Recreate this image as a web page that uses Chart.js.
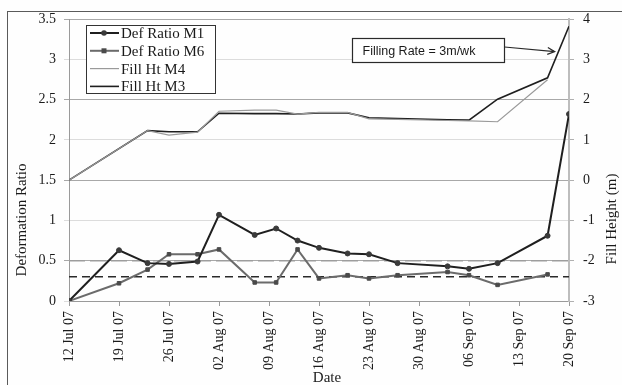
<!DOCTYPE html>
<html>
<head>
<meta charset="utf-8">
<title>Deformation Ratio and Fill Height</title>
<script src="https://cdn.jsdelivr.net/npm/chart.js@4.4.1/dist/chart.umd.min.js"></script>
<style>
  html, body { margin: 0; padding: 0; background: #ffffff; }
  #wrap { width: 622px; height: 385px; position: relative; }
</style>
</head>
<body>
<div id="wrap"><canvas id="c" width="622" height="385"></canvas></div>
<script>
// Date axis: days counted from 12 Jul 07, one labelled tick per week
const tickLabels = ['12 Jul 07', '19 Jul 07', '26 Jul 07', '02 Aug 07', '09 Aug 07', '16 Aug 07',
                    '23 Aug 07', '30 Aug 07', '06 Sep 07', '13 Sep 07', '20 Sep 07'];

// Survey days for the deformation ratio readings
const ratioDays  = [0, 7, 11, 14, 18, 21, 26, 29, 32, 35, 39, 42, 46, 53, 56, 60, 67, 70];
const defRatioM1 = [0, 0.63, 0.47, 0.46, 0.49, 1.07, 0.82, 0.90, 0.75, 0.66, 0.59, 0.58, 0.47, 0.43, 0.40, 0.47, 0.81, 2.32];
const defRatioM6 = [0, 0.22, 0.39, 0.58, 0.58, 0.64, 0.23, 0.23, 0.64, 0.28, 0.32, 0.28, 0.32, 0.36, 0.32, 0.20, 0.33];

// Fill height (m) at each survey
const fillDays  = [0, 11, 14, 18, 21, 26, 29, 32, 35, 39, 42, 46, 53, 56, 60, 67, 70];
const fillHtM3  = [0, 1.23, 1.20, 1.20, 1.66, 1.65, 1.65, 1.64, 1.67, 1.67, 1.55, 1.53, 1.50, 1.49, 2.01, 2.54, 3.82];
const fillHtM4  = [0, 1.23, 1.12, 1.19, 1.71, 1.74, 1.74, 1.64, 1.68, 1.68, 1.52, 1.51, 1.48, 1.47, 1.45, 2.49];

// Horizontal reference levels of deformation ratio
const refLevelLow  = 0.3;
const refLevelHigh = 0.5;

// Callout: text and the point of the fill curve it refers to (day, fill height)
const calloutText   = 'Filling Rate = 3m/wk';
const calloutTarget = { day: 68, fill: 3.19 };
const calloutBox    = { dayFrom: 39.6, dayTo: 60.9, fillTop: 3.52, fillBottom: 2.94 };

const SERIF = '"Liberation Serif", "Times New Roman", serif';

const pts = (xs, ys) => ys.map((y, i) => ({ x: xs[i], y }));
const span = (level) => [{ x: 0, y: level }, { x: 70, y: level }];

const datasets = [
  { label: 'Def Ratio M1', data: pts(ratioDays, defRatioM1), yAxisID: 'y',
    borderColor: '#1f1f1f', borderWidth: 2, pointStyle: 'circle', pointRadius: 2.5,
    pointBackgroundColor: '#3a3a3a', pointBorderColor: '#3a3a3a', pointBorderWidth: 1 },
  { label: 'Def Ratio M6', data: pts(ratioDays, defRatioM6), yAxisID: 'y',
    borderColor: '#6b6b6b', borderWidth: 2, pointStyle: 'rect', pointRadius: 2.5,
    pointBackgroundColor: '#4a4a4a', pointBorderColor: '#4a4a4a', pointBorderWidth: 1 },
  { label: 'Fill Ht M4', data: pts(fillDays, fillHtM4), yAxisID: 'y2',
    borderColor: '#9a9a9a', borderWidth: 1.2, pointRadius: 0 },
  { label: 'Fill Ht M3', data: pts(fillDays, fillHtM3), yAxisID: 'y2',
    borderColor: '#1f1f1f', borderWidth: 1.6, pointRadius: 0 },
  { data: span(refLevelHigh), yAxisID: 'y', borderColor: '#9d9d9d', borderWidth: 1.5,
    borderDash: [16, 5], pointRadius: 0 },
  { data: span(refLevelLow), yAxisID: 'y', borderColor: '#2a2a2a', borderWidth: 1.5,
    borderDash: [8, 5], pointRadius: 0 }
];

// Page frame, axis titles, boxed legend and the filling-rate callout
const decorations = {
  id: 'decorations',
  beforeDraw(chart) {
    const ctx = chart.ctx;
    ctx.save();
    ctx.fillStyle = '#fefefe';
    ctx.fillRect(0, 0, chart.width, chart.height);
    ctx.strokeStyle = '#5a5a5a';
    ctx.lineWidth = 1;
    ctx.strokeRect(7.5, 11.5, chart.width + 20, chart.height + 20);
    ctx.restore();
  },
  afterDraw(chart) {
    const ctx = chart.ctx;
    const xs = chart.scales.x, ys2 = chart.scales.y2;
    ctx.save();

    // axis titles
    ctx.fillStyle = '#1a1a1a';
    ctx.font = '15px ' + SERIF;
    ctx.textAlign = 'center';
    ctx.textBaseline = 'middle';
    ctx.fillText('Date', 327, 378);
    ctx.save();
    ctx.translate(22, 220);
    ctx.rotate(-Math.PI / 2);
    ctx.fillText('Deformation Ratio', 0, 0);
    ctx.restore();
    ctx.save();
    ctx.translate(612, 219);
    ctx.rotate(-Math.PI / 2);
    ctx.fillText('Fill Height (m)', 0, 0);
    ctx.restore();

    // legend box
    const lx = 86.5, ly = 25.5, lw = 129, lh = 68;
    ctx.fillStyle = '#ffffff';
    ctx.fillRect(lx, ly, lw, lh);
    ctx.strokeStyle = '#333333';
    ctx.lineWidth = 1;
    ctx.strokeRect(lx, ly, lw, lh);
    chart.data.datasets.filter(d => d.label).forEach((ds, i) => {
      const cy = 33 + i * 17.8;
      ctx.strokeStyle = ds.borderColor;
      ctx.lineWidth = ds.borderWidth;
      ctx.beginPath();
      ctx.moveTo(90, cy);
      ctx.lineTo(119, cy);
      ctx.stroke();
      if (ds.pointRadius > 0) {
        ctx.fillStyle = ds.pointBackgroundColor;
        ctx.beginPath();
        if (ds.pointStyle === 'rect') ctx.rect(104 - 2.5, cy - 2.5, 5, 5);
        else ctx.arc(104, cy, 2.8, 0, Math.PI * 2);
        ctx.fill();
      }
      ctx.fillStyle = '#1a1a1a';
      ctx.font = '15px ' + SERIF;
      ctx.textAlign = 'left';
      ctx.textBaseline = 'middle';
      ctx.fillText(ds.label, 121, cy + 1);
    });

    // callout box with arrow
    const bx0 = Math.round(xs.getPixelForValue(calloutBox.dayFrom)) + 0.5;
    const bx1 = Math.round(xs.getPixelForValue(calloutBox.dayTo)) + 0.5;
    const by0 = Math.round(ys2.getPixelForValue(calloutBox.fillTop)) + 0.5;
    const by1 = Math.round(ys2.getPixelForValue(calloutBox.fillBottom)) + 0.5;
    ctx.fillStyle = '#ffffff';
    ctx.fillRect(bx0, by0, bx1 - bx0, by1 - by0);
    ctx.strokeStyle = '#2a2a2a';
    ctx.lineWidth = 1.2;
    ctx.strokeRect(bx0, by0, bx1 - bx0, by1 - by0);
    ctx.fillStyle = '#1a1a1a';
    ctx.font = '12.5px "Liberation Sans", Arial, sans-serif';
    ctx.textAlign = 'left';
    ctx.textBaseline = 'middle';
    ctx.fillText(calloutText, bx0 + 10, (by0 + by1) / 2 + 1);

    const ax0 = bx1, ay0 = by0 + 8.5;
    const tx = xs.getPixelForValue(calloutTarget.day);
    const ty = ys2.getPixelForValue(calloutTarget.fill);
    const ang = Math.atan2(ty - ay0, tx - ax0);
    ctx.strokeStyle = '#2a2a2a';
    ctx.lineWidth = 1.2;
    ctx.beginPath();
    ctx.moveTo(ax0, ay0);
    ctx.lineTo(tx, ty);
    ctx.moveTo(tx - 8 * Math.cos(ang - 0.45), ty - 8 * Math.sin(ang - 0.45));
    ctx.lineTo(tx, ty);
    ctx.lineTo(tx - 8 * Math.cos(ang + 0.45), ty - 8 * Math.sin(ang + 0.45));
    ctx.stroke();
    ctx.restore();
  }
};

new Chart(document.getElementById('c'), {
  type: 'line',
  data: { datasets },
  plugins: [decorations],
  options: {
    responsive: false,
    animation: false,
    devicePixelRatio: 1,
    layout: { padding: { top: 19, left: 0, right: 0, bottom: 0 } },
    elements: { line: { tension: 0 } },
    plugins: { legend: { display: false }, tooltip: { enabled: false } },
    scales: {
      x: {
        type: 'linear', min: 0, max: 70,
        ticks: {
          stepSize: 7, autoSkip: false, minRotation: 90, maxRotation: 90, padding: 5,
          color: '#1a1a1a', font: { family: SERIF, size: 14 },
          callback: (v) => tickLabels[Math.round(v / 7)]
        },
        grid: { drawOnChartArea: false, drawTicks: true, tickLength: 5, color: '#9a9a9a' },
        border: { color: '#9a9a9a', width: 1 },
        afterFit: (s) => { s.height = 84; }
      },
      y: {
        position: 'left', min: 0, max: 3.5,
        ticks: { stepSize: 0.5, padding: 8, color: '#1a1a1a', font: { family: SERIF, size: 14 },
                 callback: (v) => String(Math.round(v * 10) / 10) },
        grid: {
          drawTicks: true, tickLength: 5, lineWidth: 1,
          color: (c) => (Math.round(c.tick.value * 2) % 2 === 1 ? '#a8a8a8' : '#dcdcdc')
        },
        border: { color: '#9a9a9a', width: 1 },
        afterFit: (s) => { s.width = 69; }
      },
      y2: {
        position: 'right', min: -3, max: 4,
        ticks: { stepSize: 1, padding: 9, color: '#1a1a1a', font: { family: SERIF, size: 14 },
                 callback: (v) => String(v) },
        grid: { drawOnChartArea: false, drawTicks: true, tickLength: 5, color: '#b0b0b0' },
        border: { color: '#bdbdbd', width: 2 },
        afterFit: (s) => { s.width = 53; }
      }
    }
  }
});
</script>
</body>
</html>
